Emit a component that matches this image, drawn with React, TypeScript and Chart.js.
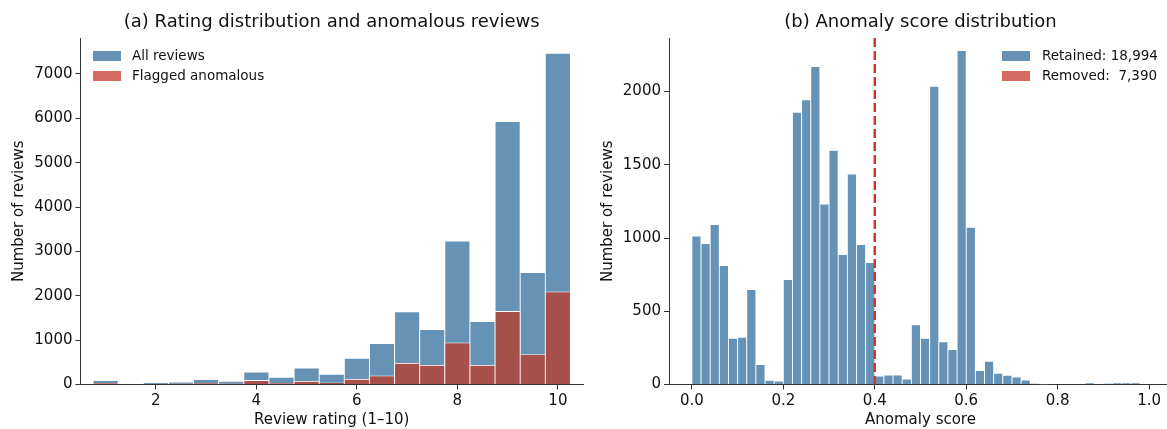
import React, { useEffect, useRef } from "react";
import { Chart, registerables } from "chart.js";

Chart.register(...registerables);

// ---- Panel (a): review ratings, half-point bins ----
const RATING_BINS = [1, 1.5, 2, 2.5, 3, 3.5, 4, 4.5, 5, 5.5, 6, 6.5, 7, 7.5, 8, 8.5, 9, 9.5, 10];
const ALL_REVIEWS = [92, 0, 47, 57, 112, 72, 283, 162, 373, 230, 591, 922, 1637, 1238, 3232, 1419, 5926, 2525, 7466];
const FLAGGED = [27, 0, 12, 17, 27, 17, 92, 27, 75, 37, 120, 195, 481, 436, 940, 436, 1647, 677, 2088];
const RATING_TICKS = [2, 4, 6, 8, 10];
const COUNT_TICKS_A = [0, 1000, 2000, 3000, 4000, 5000, 6000, 7000];

// ---- Panel (b): anomaly score histogram, bins of width 0.02 ----
const SCORE_BINS = [
  0.01, 0.03, 0.05, 0.07, 0.09, 0.11, 0.13, 0.15, 0.17, 0.19,
  0.21, 0.23, 0.25, 0.27, 0.29, 0.31, 0.33, 0.35, 0.37, 0.39,
  0.41, 0.43, 0.45, 0.47, 0.49, 0.51, 0.53, 0.55, 0.57, 0.59,
  0.61, 0.63, 0.65, 0.67, 0.69, 0.71, 0.73, 0.75, 0.77, 0.79,
  0.81, 0.83, 0.85, 0.87, 0.89, 0.91, 0.93, 0.95, 0.97, 0.99,
];
const SCORE_COUNTS = [
  1013, 963, 1092, 813, 315, 322, 649, 136, 29, 24,
  717, 1858, 1945, 2172, 1233, 1599, 888, 1438, 956, 832,
  58, 65, 65, 38, 407, 315, 2036, 292, 238, 2281,
  1073, 95, 158, 76, 63, 51, 31, 5, 3, 0,
  0, 0, 0, 9, 0, 5, 8, 10, 8, 0,
];
const SCORE_TICKS = [0, 0.2, 0.4, 0.6, 0.8, 1.0];
const COUNT_TICKS_B = [0, 500, 1000, 1500, 2000];
const THRESHOLD = 0.4;

const BLUE = "#6693b5";
const RED_BAR = "#a8504c";
const RED_KEY = "#d46a60";
const RED_LINE = "#d0342c";
const AXIS = "#333333";
const TEXT = "#111111";
const FAMILY = '"DejaVu Sans", "Liberation Sans", sans-serif';

const fmt = (n: number) => n.toLocaleString("en-US");

const retainedTotal = SCORE_COUNTS.reduce((s, c, i) => (SCORE_BINS[i] < THRESHOLD ? s + c : s), 0);
const removedTotal = SCORE_COUNTS.reduce((s, c, i) => (SCORE_BINS[i] >= THRESHOLD ? s + c : s), 0);

type LegendItem = { label: string; color: string };

// Title, in-plot legend and optional threshold marker for one panel
function panelDecor(title: string, legend: LegendItem[], legendX: number, textX: number, threshold?: number) {
  return {
    id: "panelDecor",
    afterDatasetsDraw(chart: any) {
      if (threshold === undefined) return;
      const { ctx, chartArea, scales } = chart;
      const x = scales.x.getPixelForValue(threshold);
      ctx.save();
      ctx.strokeStyle = RED_LINE;
      ctx.lineWidth = 2.4;
      ctx.setLineDash([9, 4]);
      ctx.beginPath();
      ctx.moveTo(x, chartArea.top);
      ctx.lineTo(x, chartArea.bottom);
      ctx.stroke();
      ctx.restore();
    },
    afterDraw(chart: any) {
      const { ctx, chartArea } = chart;
      ctx.save();
      ctx.fillStyle = TEXT;
      ctx.font = `18px ${FAMILY}`;
      ctx.textAlign = "center";
      ctx.textBaseline = "middle";
      ctx.fillText(title, (chartArea.left + chartArea.right) / 2, 22);

      ctx.font = `13.5px ${FAMILY}`;
      ctx.textAlign = "left";
      legend.forEach((item, i) => {
        const cy = 56 + i * 20;
        ctx.fillStyle = item.color;
        ctx.fillRect(legendX, cy - 5, 28, 10);
        ctx.fillStyle = TEXT;
        ctx.fillText(item.label, textX, cy + 0.5);
      });
      ctx.restore();
    },
  };
}

function axisCommon(ticks: number[], label: (v: number) => string, titleText: string, titlePad: any) {
  return {
    type: "linear" as const,
    offset: false,
    afterBuildTicks: (s: any) => {
      s.ticks = ticks.map((v) => ({ value: v }));
    },
    grid: { offset: false, drawOnChartArea: false, drawTicks: true, tickLength: 5, color: AXIS, lineWidth: 1 },
    border: { display: true, color: AXIS, width: 1 },
    ticks: {
      font: { family: FAMILY, size: 15 },
      color: TEXT,
      padding: 3,
      maxRotation: 0,
      autoSkip: false,
      callback: (v: any) => label(Number(v)),
    },
    title: { display: true, text: titleText, font: { family: FAMILY, size: 15 }, color: TEXT, padding: titlePad },
  };
}

function baseOptions(padRight: number) {
  return {
    responsive: false,
    animation: false as const,
    devicePixelRatio: 1,
    events: [] as any[],
    layout: { padding: { left: 0, right: padRight, top: 38, bottom: 0 } },
    datasets: { bar: { grouped: false, barPercentage: 1, categoryPercentage: 1 } },
    plugins: { legend: { display: false }, tooltip: { enabled: false }, title: { display: false } },
  };
}

function ratingChart(canvas: HTMLCanvasElement) {
  return new Chart(canvas, {
    type: "bar",
    data: {
      datasets: [
        {
          label: "Flagged anomalous",
          data: RATING_BINS.map((x, i) => ({ x, y: FLAGGED[i] })),
          backgroundColor: RED_BAR,
          borderColor: "#ffffff",
          borderWidth: 0.8,
          order: 0,
        },
        {
          label: "All reviews",
          data: RATING_BINS.map((x, i) => ({ x, y: ALL_REVIEWS[i] })),
          backgroundColor: BLUE,
          borderColor: "#ffffff",
          borderWidth: 0.8,
          order: 1,
        },
      ],
    },
    options: {
      ...baseOptions(17),
      scales: {
        x: {
          ...axisCommon(RATING_TICKS, (v) => String(v), "Review rating (1–10)", { top: 0, bottom: 0 }),
          min: 0.5,
          max: 10.5,
          afterFit: (s: any) => {
            s.height = 44.5;
          },
        },
        y: {
          ...axisCommon(COUNT_TICKS_A, (v) => String(v), "Number of reviews", { top: 10, bottom: 0 }),
          min: 0,
          max: 7810,
          afterFit: (s: any) => {
            s.width = 80.5;
          },
        },
      },
    } as any,
    plugins: [
      panelDecor(
        "(a) Rating distribution and anomalous reviews",
        [
          { label: "All reviews", color: BLUE },
          { label: "Flagged anomalous", color: RED_KEY },
        ],
        93,
        132
      ),
    ],
  });
}

function scoreChart(canvas: HTMLCanvasElement) {
  return new Chart(canvas, {
    type: "bar",
    data: {
      datasets: [
        {
          label: "Reviews",
          data: SCORE_BINS.map((x, i) => ({ x, y: SCORE_COUNTS[i] })),
          backgroundColor: BLUE,
          borderColor: "#ffffff",
          borderWidth: 0.8,
        },
      ],
    },
    options: {
      ...baseOptions(8),
      scales: {
        x: {
          ...axisCommon(SCORE_TICKS, (v) => v.toFixed(1), "Anomaly score", { top: 0, bottom: 0 }),
          min: -0.05,
          max: 1.05,
          afterFit: (s: any) => {
            s.height = 44.5;
          },
        },
        y: {
          ...axisCommon(COUNT_TICKS_B, (v) => String(v), "Number of reviews", { top: 9, bottom: 0 }),
          min: 0,
          max: 2366,
          afterFit: (s: any) => {
            s.width = 79;
          },
        },
      },
    } as any,
    plugins: [
      panelDecor(
        "(b) Anomaly score distribution",
        [
          { label: `Retained: ${fmt(retainedTotal).padStart(6, " ")}`, color: BLUE },
          { label: `Removed: ${fmt(removedTotal).padStart(6, " ")}`, color: RED_KEY },
        ],
        412,
        452,
        THRESHOLD
      ),
    ],
  });
}

export default function App() {
  const leftRef = useRef<HTMLCanvasElement>(null);
  const rightRef = useRef<HTMLCanvasElement>(null);

  useEffect(() => {
    const a = ratingChart(leftRef.current!);
    const b = scoreChart(rightRef.current!);
    return () => {
      a.destroy();
      b.destroy();
    };
  }, []);

  return (
    <div
      style={{
        position: "fixed",
        left: 0,
        top: 0,
        width: 1167,
        height: 429,
        overflow: "hidden",
        background: "#ffffff",
      }}
    >
      <canvas
        ref={leftRef}
        width={600}
        height={429}
        style={{ position: "absolute", left: 0, top: 0, width: 600, height: 429 }}
      />
      <canvas
        ref={rightRef}
        width={590}
        height={429}
        style={{ position: "absolute", left: 590, top: 0, width: 590, height: 429 }}
      />
    </div>
  );
}
